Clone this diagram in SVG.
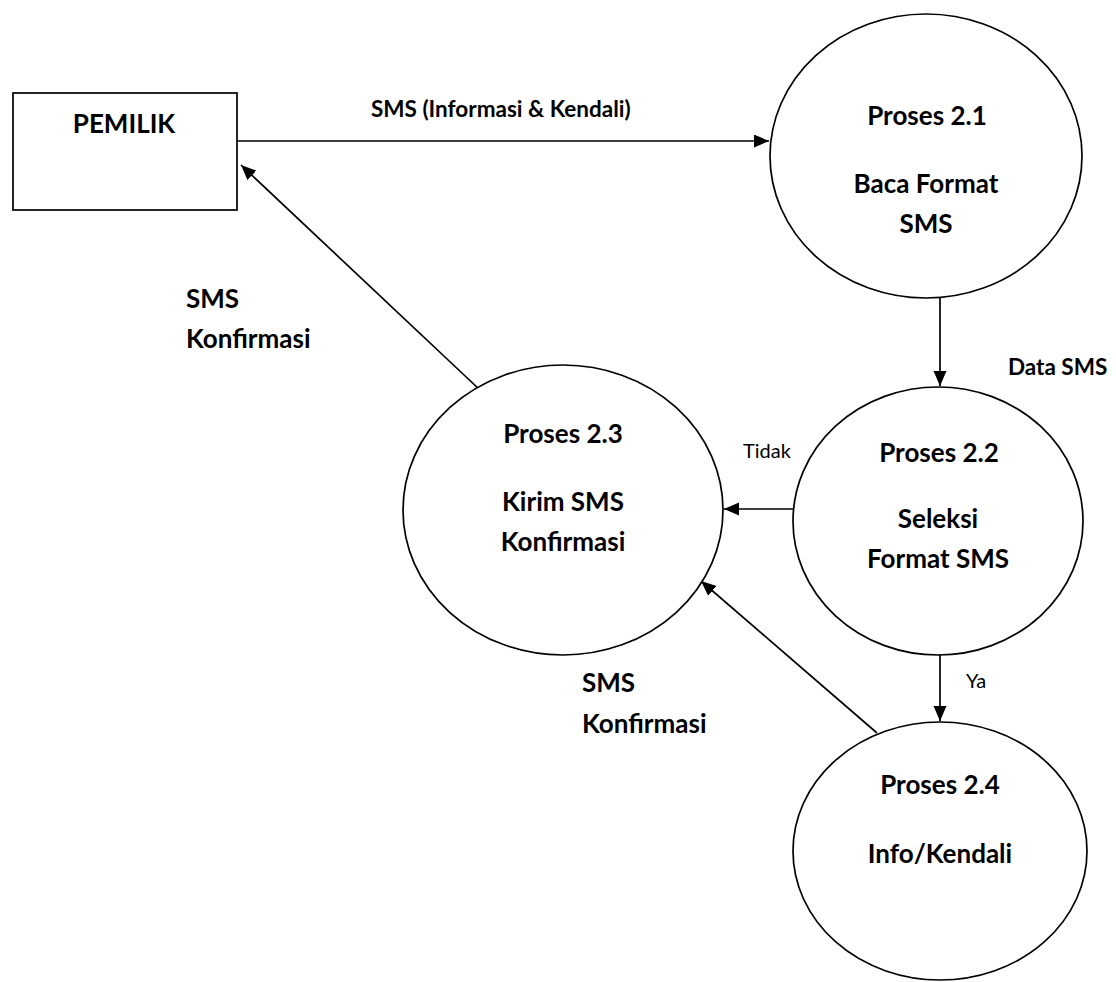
<svg xmlns="http://www.w3.org/2000/svg" width="1116" height="982" viewBox="0 0 1116 982">
<style>
  .shape { fill: #ffffff; stroke: #000000; stroke-width: 1.7; }
  .line { fill: none; stroke: #000000; stroke-width: 1.7; }
  .t { font-family: "Lato", "Liberation Sans", sans-serif; fill: #000000; }
  .b { font-weight: bold; font-size: 26px; }
  .s { font-weight: bold; font-size: 22.5px; }
  .r { font-weight: normal; font-size: 20px; }
  .c { text-anchor: middle; }
</style>
<defs>
  <marker id="arr" markerUnits="userSpaceOnUse" markerWidth="16" markerHeight="14" refX="15" refY="6.5" orient="auto">
    <path d="M0,0 L15,6.5 L0,13 z" fill="#000000"/>
  </marker>
</defs>
<rect width="1116" height="982" fill="#ffffff"/>
<g id="connectors">
  <line class="line" x1="237" y1="141" x2="769" y2="141" marker-end="url(#arr)"/>
  <line class="line" x1="940" y1="298" x2="940" y2="386" marker-end="url(#arr)"/>
  <line class="line" x1="794" y1="509" x2="724" y2="509" marker-end="url(#arr)"/>
  <line class="line" x1="940" y1="655" x2="940" y2="721" marker-end="url(#arr)"/>
  <line class="line" x1="877" y1="733" x2="701" y2="581" marker-end="url(#arr)"/>
  <line class="line" x1="480" y1="390" x2="241" y2="165" marker-end="url(#arr)"/>
  <text class="t s" x="371" y="117">SMS (Informasi &amp; Kendali)</text>
  <text class="t s" x="1008" y="375">Data SMS</text>
  <text class="t r" x="743" y="458">Tidak</text>
  <text class="t r" x="966" y="688">Ya</text>
  <text class="t b" x="582" y="692">SMS</text>
  <text class="t b" x="582" y="733">Konfirmasi</text>
  <text class="t b" x="186" y="308">SMS</text>
  <text class="t b" x="186" y="348">Konfirmasi</text>
</g>
<g id="pemilik">
  <rect class="shape" x="13" y="93" width="224" height="117"/>
  <text class="t b c" x="124" y="133">PEMILIK</text>
</g>
<g id="proses21">
  <ellipse class="shape" cx="926" cy="156" rx="156" ry="142"/>
  <text class="t b c" x="927" y="125">Proses 2.1</text>
  <text class="t b c" x="926" y="193">Baca Format</text>
  <text class="t b c" x="926" y="233">SMS</text>
</g>
<g id="proses22">
  <ellipse class="shape" cx="938" cy="521" rx="145" ry="134"/>
  <text class="t b c" x="939" y="462">Proses 2.2</text>
  <text class="t b c" x="938" y="528">Seleksi</text>
  <text class="t b c" x="938" y="568">Format SMS</text>
</g>
<g id="proses23">
  <ellipse class="shape" cx="563" cy="510" rx="160" ry="145"/>
  <text class="t b c" x="563" y="443">Proses 2.3</text>
  <text class="t b c" x="563" y="511">Kirim SMS</text>
  <text class="t b c" x="563" y="551">Konfirmasi</text>
</g>
<g id="proses24">
  <ellipse class="shape" cx="940" cy="851" rx="147" ry="129"/>
  <text class="t b c" x="940" y="794">Proses 2.4</text>
  <text class="t b c" x="940" y="863">Info/Kendali</text>
</g>
</svg>
